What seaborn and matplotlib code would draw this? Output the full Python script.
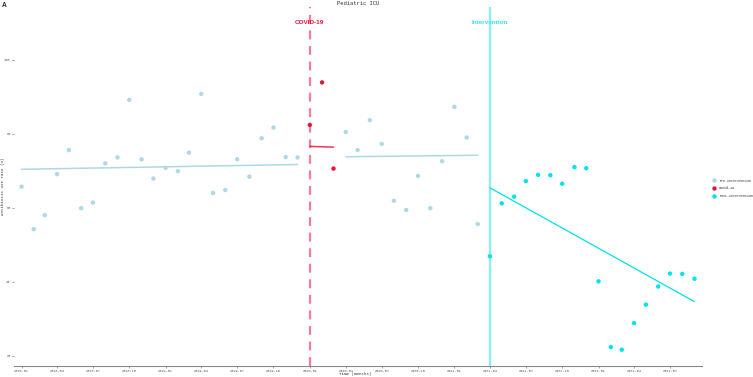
import numpy as np
import pandas as pd
import matplotlib
matplotlib.use("Agg")
import matplotlib.pyplot as plt
import matplotlib.dates as mdates
import seaborn as sns

# ---------------- data ----------------
pre1_values = [65.7, 54.2, 58.0, 69.1, 75.6, 59.9, 61.4, 72.0, 73.6, 89.2, 73.1, 67.9,
               70.8, 69.9, 74.9, 90.8, 64.0, 64.8, 73.1, 68.4, 78.8, 81.7, 73.7, 73.6]   # 2018-01 .. 2019-12
covid_values = [82.4, 93.9, 70.6]                                                      # 2020-01 .. 2020-03
pre2_values = [80.5, 75.6, 83.7, 77.3, 61.9, 59.4, 68.6, 59.9, 72.6, 87.3, 79.0, 55.6]  # 2020-04 .. 2021-03
post_values = [46.9, 61.2, 63.0, 67.2, 68.9, 68.8, 66.5, 71.0, 70.7, 40.1, 22.3, 21.6,
               28.8, 33.8, 38.7, 42.2, 42.1, 40.8]                                     # 2021-04 .. 2022-09

# fitted trend lines (start/end values)
trend_pre1 = [70.4, 71.7]
trend_covid = [76.6, 76.4]
trend_pre2 = [73.8, 74.2]
trend_post = [65.4, 34.6]

group_names = ["Pre-intervention", "Covid-19", "Post-intervention"]
group_colors = ["#ADD8E6", "#E8133C", "#00E3EA"]
covid_date = "2020-01-01"
intervention_date = "2021-04-01"
y_ticks = [20, 40, 60, 80, 100]

# ---------------- build frame ----------------
months = pd.date_range("2018-01-01", periods=len(pre1_values) + len(covid_values)
                       + len(pre2_values) + len(post_values), freq="MS")
values = pre1_values + covid_values + pre2_values + post_values
groups = (["Pre-intervention"] * len(pre1_values) + ["Covid-19"] * len(covid_values)
          + ["Pre-intervention"] * len(pre2_values) + ["Post-intervention"] * len(post_values))
segment = ([0] * len(pre1_values) + [1] * len(covid_values)
           + [2] * len(pre2_values) + [3] * len(post_values))
df = pd.DataFrame({"month": months, "rate": values, "group": groups, "segment": segment})

# ---------------- plotting ----------------
sns.set_theme(style="white")
plt.rcParams["font.family"] = ["Liberation Mono", "DejaVu Sans"]

fig = plt.figure(figsize=(7.53, 3.77), dpi=100)
ax = fig.add_axes([14 / 753, 11 / 377, 688 / 753, 359 / 377])

palette = dict(zip(group_names, group_colors))

# trend lines
trends = [trend_pre1, trend_covid, trend_pre2, trend_post]
trend_colors = ["#ADD8E6", "#E8133C", "#ADD8E6", "#00E3EA"]
trend_lw = [1.1, 1.1, 1.1, 0.9]
for seg, (tr, col, lw) in enumerate(zip(trends, trend_colors, trend_lw)):
    sub = df[df.segment == seg]
    tdf = pd.DataFrame({"month": [sub.month.iloc[0], sub.month.iloc[-1]], "fit": tr})
    sns.lineplot(data=tdf, x="month", y="fit", color=col, lw=lw, ax=ax,
                 alpha=0.85 if seg == 1 else 1.0)

# vertical reference lines
ax.axvline(pd.Timestamp(covid_date), color="#F0809A", lw=1.6, ls=(0, (4, 3)), zorder=1)
ax.axvline(pd.Timestamp(intervention_date), color="#86F0F2", lw=1.6, zorder=1)

# points
sns.scatterplot(data=df, x="month", y="rate", hue="group", hue_order=group_names,
                palette=palette, s=10, linewidth=0, ax=ax, zorder=3)

# annotations
ax.text(pd.Timestamp(covid_date), 110, "COVID-19", color="#E8133C", ha="center", va="center",
        fontsize=4.6, fontweight="bold", family=["Liberation Sans", "DejaVu Sans"])
ax.text(pd.Timestamp(intervention_date), 110, "Intervention", color="#33E3EA", ha="center",
        va="center", fontsize=4.6, fontweight="bold", family=["Liberation Sans", "DejaVu Sans"])

# axes styling
ax.set_xlim(pd.Timestamp("2017-12-13"), pd.Timestamp("2022-09-20"))
ax.set_ylim(17.2, 114.3)
ax.set_yticks(y_ticks)
ax.set_yticklabels([str(t) for t in y_ticks])
ax.xaxis.set_major_locator(mdates.MonthLocator(bymonth=[1, 4, 7, 10]))
ax.xaxis.set_major_formatter(mdates.DateFormatter("%Y-%m"))
ax.tick_params(axis="both", labelsize=2.6, colors="#555555", length=1.5, width=0.4, pad=1)
ax.tick_params(axis="x", bottom=True)
ax.tick_params(axis="y", left=True)
for side in ["top", "right", "left"]:
    ax.spines[side].set_visible(False)
ax.spines["bottom"].set_color("#888888")
ax.spines["bottom"].set_linewidth(0.8)
ax.set_xlabel("")
ax.set_ylabel("")

# legend
handles, labels = ax.get_legend_handles_labels()
ax.legend(handles, labels, loc="center left", bbox_to_anchor=(1.013, 0.495), frameon=False,
          fontsize=2.4, markerscale=1.0, handletextpad=1.2, labelspacing=1.1, borderpad=0,
          handlelength=0.8)

# titles and labels
fig.text(358 / 753, 1 - 1 / 377, "Pediatric ICU", ha="center", va="top", fontsize=4.0,
         color="#333333")
fig.text(2 / 753, 1 - 2 / 377, "A", ha="left", va="top", fontsize=4.8, fontweight="bold",
         family=["Liberation Sans", "DejaVu Sans"])
fig.text(355 / 753, 1 - 374 / 377, "Time (months)", ha="center", va="center", fontsize=3.0,
         color="#333333")
fig.text(3 / 753, 1 - 186 / 377, "Antibiotic use rate (%)", ha="center", va="center",
         rotation=90, fontsize=3.0, color="#333333")

fig.savefig("out.png", dpi=100)
